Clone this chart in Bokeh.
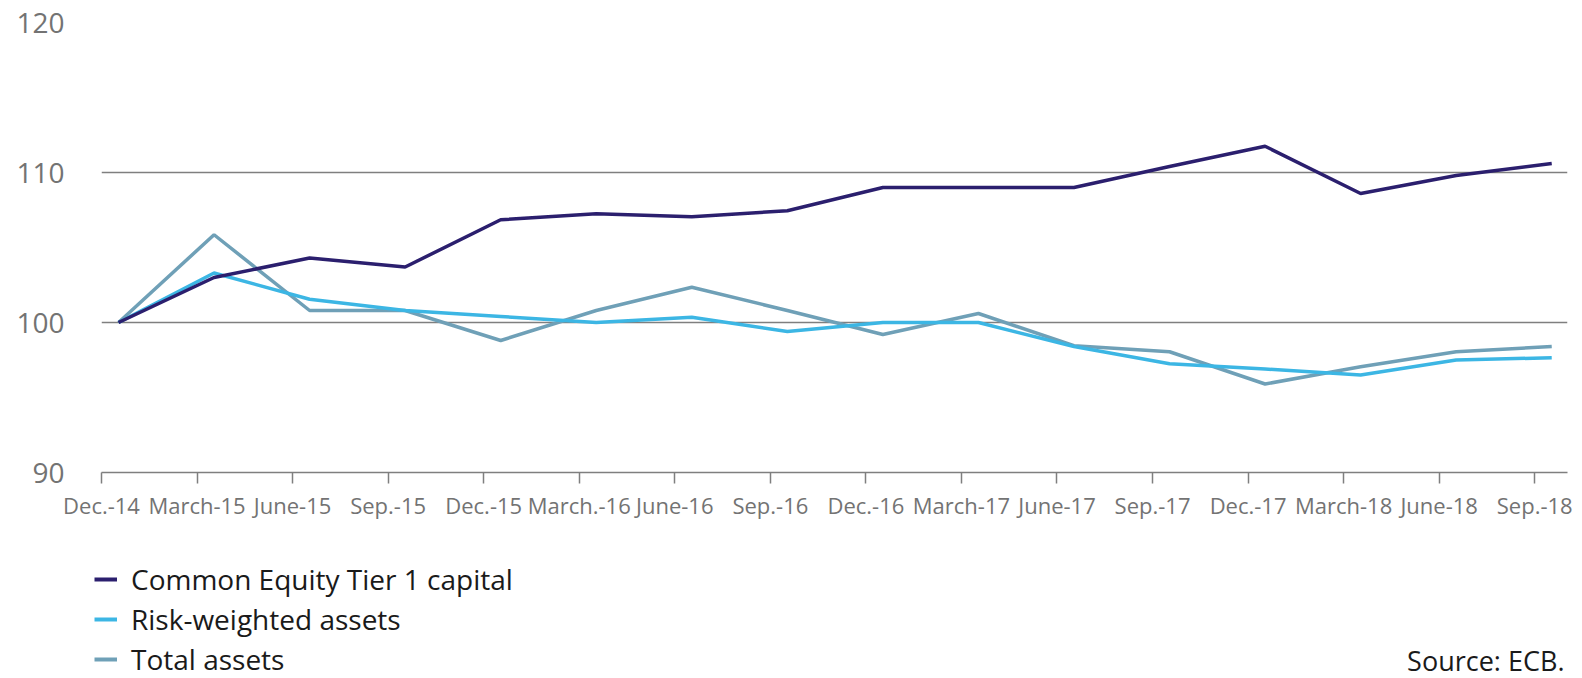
from bokeh.plotting import figure
from bokeh.layouts import column, row
from bokeh.models import Range1d, FixedTicker, Label, ColumnDataSource, Legend, LegendItem
from bokeh.transform import dodge
from bokeh.embed import file_html
from bokeh.resources import INLINE

categories = ["Dec.-14", "March-15", "June-15", "Sep.-15", "Dec.-15", "March.-16",
              "June-16", "Sep.-16", "Dec.-16", "March-17", "June-17", "Sep.-17",
              "Dec.-17", "March-18", "June-18", "Sep.-18"]
cet1 = [100.0, 103.0, 104.3, 103.7, 106.85, 107.25, 107.05, 107.45, 109.0, 109.0,
        109.0, 110.4, 111.75, 108.6, 109.8, 110.6]
rwa = [100.0, 103.3, 101.55, 100.8, 100.4, 100.0, 100.35, 99.4, 100.0, 100.0,
       98.4, 97.25, 96.9, 96.5, 97.5, 97.65]
total = [100.0, 105.85, 100.8, 100.8, 98.8, 100.8, 102.35, 100.8, 99.2, 100.6,
         98.45, 98.05, 95.9, 97.05, 98.05, 98.4]
y_ticks = [90, 100, 110, 120]
series_names = ["Common Equity Tier 1 capital", "Risk-weighted assets", "Total assets"]
series_colors = ["#2b1f6e", "#3cb6e4", "#6fa0b7"]
source_text = "Source: ECB."

FONT = "Open Sans"
GRID = "#7f7f7f"
LABEL_GRAY = "#737373"
W = 1582
H_MAIN = 536
H_FOOT = 678 - H_MAIN

x_idx = list(range(len(categories)))
src = ColumnDataSource(dict(x=x_idx, cet1=cet1, rwa=rwa, total=total))
cols = ["cet1", "rwa", "total"]

# ---------------- main chart ----------------
p = figure(width=W, height=H_MAIN, output_backend="svg", toolbar_location=None,
           x_range=Range1d(0, 15.343), y_range=Range1d(90, 120),
           min_border_left=101, min_border_right=15, min_border_top=22,
           min_border_bottom=H_MAIN - 472)
p.outline_line_color = None
p.background_fill_color = "white"
p.border_fill_color = "white"

for col, color in zip(cols[::-1], series_colors[::-1]):
    p.line(x=dodge("x", 0.178), y=col, source=src, line_color=color, line_width=3.5)

p.xgrid.grid_line_color = None
p.ygrid.ticker = FixedTicker(ticks=y_ticks)
p.ygrid.grid_line_color = GRID
p.ygrid.grid_line_width = 1.5

xa = p.xaxis[0]
xa.ticker = FixedTicker(ticks=x_idx)
xa.major_label_overrides = {i: c for i, c in zip(x_idx, categories)}
xa.axis_line_color = GRID
xa.axis_line_width = 1.5
xa.major_tick_line_color = GRID
xa.major_tick_line_width = 1.5
xa.major_tick_out = 11
xa.major_tick_in = 0
xa.minor_tick_line_color = None
xa.major_label_standoff = 6
xa.major_label_text_font = FONT
xa.major_label_text_font_size = "22px"
xa.major_label_text_color = LABEL_GRAY

ya = p.yaxis[0]
ya.ticker = FixedTicker(ticks=y_ticks)
ya.axis_line_color = None
ya.major_tick_line_color = None
ya.minor_tick_line_color = None
ya.major_label_standoff = 31
ya.major_label_text_font = FONT
ya.major_label_text_font_size = "28px"
ya.major_label_text_color = LABEL_GRAY

# ---------------- footer: legend + source ----------------
f = figure(width=W, height=H_FOOT, output_backend="svg", toolbar_location=None,
           x_range=Range1d(0, 15.343), y_range=Range1d(0, 1),
           x_axis_location=None, y_axis_location=None, min_border=0,
           min_border_left=0, min_border_right=0, min_border_top=0, min_border_bottom=0)
f.outline_line_color = None
f.xgrid.grid_line_color = None
f.ygrid.grid_line_color = None
f.background_fill_color = "white"
f.border_fill_color = "white"

# legend glyph renderers (same data, outside footer's y-range so only the legend shows)
items = []
for col, name, color in zip(cols, series_names, series_colors):
    r = f.line(x="x", y=col, source=src, line_color=color, line_width=4)
    items.append(LegendItem(label=name, renderers=[r]))

leg = Legend(items=items, location=(94, 0))
leg.background_fill_alpha = 0
leg.border_line_color = None
leg.padding = 0
leg.margin = 0
leg.spacing = 2
leg.glyph_width = 23
leg.glyph_height = 20
leg.label_standoff = 14
leg.label_text_font = FONT
leg.label_text_font_size = "28px"
leg.label_text_color = "#1a1a1a"
f.add_layout(leg)

f.add_layout(Label(x=1564, y=18, x_units="screen", y_units="screen",
                   text=source_text, text_align="right", text_baseline="alphabetic",
                   text_font=FONT, text_font_size="27px", text_color="#1a1a1a"))

layout = column(p, row(f, spacing=0), spacing=0)
open("out.html", "w").write(file_html(layout, INLINE))
